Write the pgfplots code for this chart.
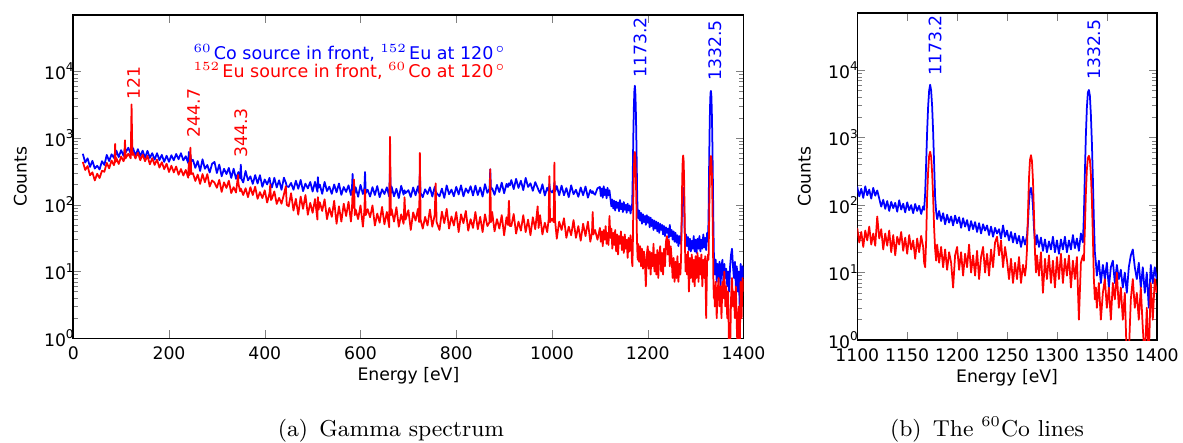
\documentclass[border=0pt]{standalone}
\usepackage{fontspec}
\usepackage{pgfplots}
\usepackage{pgfplotstable}
\pgfplotsset{compat=1.18}
\newfontfamily\plotfont{DejaVu Sans}

% E [eV], Co-60 in front (blue), Eu-152 in front (red)
\pgfplotstableread{
E co eu
20 582 440
25 431 333
30 497 381
35 370 277
40 456 307
45 350 232
50 385 292
55 339 252
60 451 324
65 396 313
70 560 426
75 452 352
80 572 462
85 504 392
86.5 570 430
87.5 620 820
88.5 560 440
90 650 504
95 519 409
100 660 528
105 543 450
106.5 600 480
108 720 930
109.5 610 500
115 717 583
120 585 497
121.8 1000 3200
123.5 660 560
125 704 605
130 546 495
135 683 605
140 540 466
145 649 567
150 505 450
155 644 543
160 504 404
165 594 500
170 475 396
175 594 476
180 468 361
185 561 435
190 440 342
195 545 414
200 441 310
205 554 385
210 465 306
215 578 375
220 482 282
225 594 344
230 464 275
235 535 334
240 423 255
241.5 620 430
243 470 280
244.7 560 720
246.5 450 290
250 473 297
255 358 228
260 453 284
265 322 206
270 481 289
275 347 218
280 395 289
285 305 188
290 412 232
295 440 215
300 299 180
305 401 237
310 268 156
315 347 217
320 289 179
325 357 230
330 253 150
335 348 184
340 245 153
344.3 300 280
345 310 208
348.5 250 160
350 400 175
351.5 245 165
355 216 140
360 322 177
365 233 130
370 267 184
375 206 140
380 279 187
385 209 123
390 278 155
395 186 126
400 240 165
405 202 108
410 254 150
411.5 215 200
413 200 118
415 182 124
420 254 159
425 182 103
430 233 127
435 168 104
440 255 143
444 215 190
446 190 100
450 185 95
455 213 149
460 168 82
465 230 123
470 174 71
475 236 133
480 160 87
485 208 140
490 176 71
495 220 107
500 158 76
505 221 122
510 157 60
511 260 130
512.5 180 85
515 201 109
520 146 81
525 220 121
530 161 61
535 187 90
540 146 66
545 202 115
550 154 52
555 209 95
560 141 56
565 185 104
570 156 68
575 196 111
580 140 56
582 170 80
583.5 290 160
585 165 90
586.5 200 240
588 150 70
590 183 85
595 132 61
600 199 98
605 145 47
608 175 80
609.5 310 170
611 150 70
615 168 86
620 133 65
625 184 98
630 140 49
635 191 74
640 130 54
645 171 93
650 145 51
655 183 78
660 133 46
661.7 360 1050
663.5 150 70
665 186 86
670 134 56
675 174 92
680 126 47
685 193 72
690 142 52
692 165 130
694 150 60
700 166 83
705 131 42
710 182 77
715 139 58
720 190 87
722.5 150 55
724 290 600
725.5 150 60
730 130 44
735 171 66
740 145 49
745 183 85
750 133 47
755 186 71
757 160 210
759 150 55
765 134 42
770 175 79
775 127 53
780 195 87
785 144 44
790 169 67
795 134 49
800 186 78
805 143 39
810 196 72
815 134 53
820 176 81
825 151 41
830 190 61
835 138 45
840 194 78
845 140 43
850 182 66
855 133 39
860 204 72
865 151 48
869.5 175 55
871 340 340
872.5 170 55
875 177 78
880 141 40
885 199 61
890 155 44
895 215 70
900 149 35
905 206 65
908 185 50
910 210 115
912 195 48
915 235 48
920 172 73
925 245 37
930 179 56
935 230 41
940 166 70
945 253 39
950 185 60
955 210 35
960 162 65
965 219 43
970 180 95
972 165 45
975 150 70
980 203 36
985 138 54
990 180 39
993 160 60
994.5 205 270
996 165 55
1000 153 62
1003.5 170 55
1005 215 430
1006.5 160 58
1010 191 31
1015 139 56
1020 194 42
1025 139 63
1030 178 32
1035 130 47
1040 196 35
1045 144 59
1050 168 32
1055 132 48
1060 182 29
1065 139 52
1070 188 34
1075 128 56
1080 167 28
1083.5 150 38
1085 160 78
1086.5 150 36
1090 142 42
1095 177 30
1100 185 45
1102 135 28
1104 175 40
1106 128 24
1108 190 42
1110 140 30
1112 170 48
1114 125 26
1116 180 38
1118 138 25
1120 165 68
1122 125 32
1124 95 44
1126 120 22
1128 88 38
1130 115 25
1132 82 42
1134 112 20
1136 90 36
1138 108 18
1140 80 34
1142 118 26
1144 86 40
1146 105 21
1148 78 33
1150 110 19
1152 84 36
1154 100 22
1156 76 30
1158 104 16
1160 82 32
1162 98 20
1164 74 35
1166 96 24
1167 85 14
1168 150 12
1169 420 30
1170 1250 140
1171 2950 320
1172 5000 540
1173 6100 620
1174 5000 520
1175 2900 300
1176 1200 130
1177 400 45
1178 130 22
1179 80 15
1180 62 26
1182 82 14
1184 58 24
1186 76 12
1188 52 22
1190 72 11
1192 55 20
1194 68 14
1196 50 6
1198 70 18
1200 54 24
1202 66 11
1204 46 20
1206 64 9
1208 48 19
1210 60 12
1212 42 26
1214 58 10
1216 44 18
1218 56 9
1220 40 21
1222 54 8
1224 38 17
1226 52 24
1228 42 10
1230 50 19
1232 36 9
1234 48 22
1236 34 12
1238 46 28
1240 38 34
1242 44 18
1244 32 30
1246 50 12
1248 34 24
1250 42 15
1252 30 8
1254 40 16
1256 28 7
1258 38 14
1260 27 8
1262 35 17
1264 24 7
1266 34 13
1268 26 9
1269 30 12
1270 35 22
1271 55 75
1272 110 250
1273 165 470
1274 180 550
1275 150 450
1276 95 230
1277 45 75
1278 30 20
1279 26 10
1280 36 18
1282 24 9
1284 33 20
1286 21 5
1288 31 16
1290 20 8
1292 29 18
1294 22 7
1296 34 15
1298 20 6
1300 30 17
1302 19 8
1304 31 19
1306 22 7
1308 34 16
1310 20 9
1312 30 18
1314 22 6
1316 36 15
1318 23 8
1320 32 17
1322 21 2
1324 38 14
1326 28 18
1327 70 15
1328 300 45
1329 1100 150
1330 2800 340
1331 4700 500
1332 5100 540
1333 4200 470
1334 2200 290
1335 850 120
1336 250 35
1337 60 8
1338 20 4
1339 14 6
1340 9 3
1342 15 7
1344 7 2
1346 13 5
1348 8 8
1350 14 3
1352 6 6
1354 12 2
1356 15 7
1358 7 4
1360 13 10
1362 8 3
1364 11 6
1366 6 2
1368 10 5
1370 5 0.5
1372 12 0.6
1374 18 4
1376 22 8
1378 12 3
1380 8 5
1382 14 2
1384 6 6
1386 12 1.5
1388 5 0.5
1390 10 3
1392 3 0.5
1394 13 7
1396 7 2
1398 12 8
1400 8 5
}\spectrum

\tikzset{lab/.style={rotate=90, anchor=west, inner sep=0pt}}

\begin{document}
\begin{tikzpicture}[font=\plotfont\fontsize{6.9}{8.3}\selectfont]
  \begin{axis}[
      at={(0pt,0pt)}, anchor=south west,
      scale only axis,
      width=268.1pt, height=129.3pt,
      xmin=0, xmax=1400, xtick={0,200,...,1400},
      ymode=log, ymin=1, ymax=7e4,
      ytick={1,10,100,1000,10000},
      yticklabels={10\textsuperscript{0},10\textsuperscript{1},10\textsuperscript{2},10\textsuperscript{3},10\textsuperscript{4}},
      xticklabel style={/pgf/number format/assume math mode=true, /pgf/number format/1000 sep={}},
      tick align=inside,
      major tick length=3.2pt, minor tick length=1.8pt,
      axis line style={line width=0.6pt},
      yticklabel style={xshift=4.2pt},
      xlabel style={yshift=4pt},
      ylabel={Counts}, xlabel={Energy [eV]},
    ]
    \addplot[blue, no marks, line width=0.7pt, line join=round] table[x=E, y=co] {\spectrum};
    \addplot[red, no marks, line width=0.7pt, line join=round] table[x=E, y=eu] {\spectrum};
    \node[lab, text=red] at (axis cs:126,3760) {121};
    \node[lab, text=red] at (axis cs:251,1000) {244.7};
    \node[lab, text=red] at (axis cs:350,500) {344.3};
    \node[lab, text=blue] at (axis cs:1184,7950) {1173.2};
    \node[lab, text=blue] at (axis cs:1340,7100) {1332.5};
    \node[anchor=base west, inner sep=0pt, text=blue, font=\plotfont\fontsize{7}{8.4}\selectfont]
      at (rel axis cs:0.179,0.861) {$^{60}$\kern0.8pt Co source in front, $^{152}$\kern0.8pt Eu at 120\kern0.8pt$^\circ$};
    \node[anchor=base west, inner sep=0pt, text=red, font=\plotfont\fontsize{7}{8.4}\selectfont]
      at (rel axis cs:0.179,0.806) {$^{152}$\kern0.8pt Eu source in front, $^{60}$\kern0.8pt Co at 120\kern0.8pt$^\circ$};
  \end{axis}
  \begin{axis}[
      at={(313.6pt,-0.7pt)}, anchor=south west,
      scale only axis,
      width=119.8pt, height=130.7pt,
      xmin=1100, xmax=1400, xtick={1100,1150,...,1400},
      ymode=log, ymin=1, ymax=7e4,
      ytick={1,10,100,1000,10000},
      yticklabels={10\textsuperscript{0},10\textsuperscript{1},10\textsuperscript{2},10\textsuperscript{3},10\textsuperscript{4}},
      xticklabel style={/pgf/number format/assume math mode=true, /pgf/number format/1000 sep={}},
      tick align=inside,
      major tick length=3.2pt, minor tick length=1.8pt,
      axis line style={line width=0.6pt},
      yticklabel style={xshift=4.2pt},
      xlabel style={yshift=4pt},
      ylabel={Counts}, xlabel={Energy [eV]},
    ]
    \addplot[blue, no marks, line width=0.7pt, line join=round] table[x=E, y=co] {\spectrum};
    \addplot[red, no marks, line width=0.7pt, line join=round] table[x=E, y=eu] {\spectrum};
    \node[lab, text=blue] at (axis cs:1178,8200) {1173.2};
    \node[lab, text=blue] at (axis cs:1337,7070) {1332.5};
  \end{axis}
  \node[anchor=base, font=\rmfamily\fontsize{9.2}{11}\selectfont] at (127.1pt,-39.1pt)
    {(a)\hspace{4.5pt}Gamma spectrum};
  \node[anchor=base, font=\rmfamily\fontsize{9.2}{11}\selectfont] at (365.5pt,-39.1pt)
    {(b)\hspace{4.5pt}The $^{60}$Co lines};
  \pgfresetboundingbox
  \useasboundingbox (-29.3pt,-41.5pt) rectangle (443.9pt,135.3pt);
\end{tikzpicture}
\end{document}
